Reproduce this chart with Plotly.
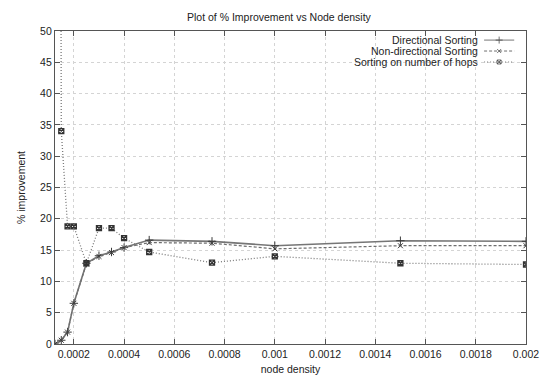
import plotly.graph_objects as go

# Node densities at which each sorting scheme was evaluated
node_density = [0.000125, 0.00015, 0.000175, 0.0002, 0.00025, 0.0003, 0.00035,
                0.0004, 0.0005, 0.00075, 0.001, 0.0015, 0.002]

# Percentage improvement for each scheme
directional = [0.0, 0.6, 1.9, 6.5, 12.9, 14.1, 14.7, 15.4, 16.6, 16.4, 15.7, 16.5, 16.4]
non_directional = [0.0, 0.6, 1.9, 6.5, 12.8, 14.0, 14.6, 15.4, 16.2, 16.1, 15.2, 15.7, 15.7]
hops = [500.0, 34.0, 18.8, 18.8, 12.9, 18.5, 18.5, 16.9, 14.7, 13.0, 14.0, 12.9, 12.7]

x_ticks = [0.0002, 0.0004, 0.0006, 0.0008, 0.001, 0.0012, 0.0014, 0.0016, 0.0018, 0.002]
x_tick_text = ["0.0002", "0.0004", "0.0006", "0.0008", "0.001", "0.0012", "0.0014",
               "0.0016", "0.0018", "0.002"]
y_ticks = [0, 5, 10, 15, 20, 25, 30, 35, 40, 45, 50]

series_names = ["Directional Sorting", "Non-directional Sorting", "Sorting on number of hops"]

FONT = "Liberation Sans, Arial, sans-serif"
TXT = "#222222"
styles = [
    dict(dash="solid", lw=1.6, lc="#767676", sym="cross-thin", ms=6, mc="#3a3a3a", mw=1.0),
    dict(dash="3px,2px", lw=1.2, lc="#6e6e6e", sym="x-thin", ms=5, mc="#3a3a3a", mw=1.0),
    dict(dash="1px,2px", lw=1.3, lc="#7a7a7a", sym="square-x-open", ms=5, mc="#333333", mw=1.3),
]

fig = go.Figure()
for name, ys, st in zip(series_names, [directional, non_directional, hops], styles):
    fig.add_trace(go.Scatter(
        x=node_density, y=ys, name=name, mode="lines+markers",
        line=dict(color=st["lc"], width=st["lw"], dash=st["dash"]),
        marker=dict(symbol=st["sym"], size=st["ms"], color=st["mc"],
                    line=dict(color=st["mc"], width=st["mw"])),
        cliponaxis=True, showlegend=False,
    ))

# Key in the upper right: labels right-aligned, line samples to their right
key_rows_y = [0.971, 0.936, 0.901]
for name, ky, st in zip(series_names, key_rows_y, styles):
    fig.add_annotation(x=0.902, y=ky, xref="paper", yref="paper", text=name,
                       showarrow=False, xanchor="right", yanchor="middle",
                       font=dict(family=FONT, size=10.5, color=TXT))
    fig.add_trace(go.Scatter(
        x=[0.911, 0.943, 0.975], y=[ky, ky, ky], xaxis="x2", yaxis="y2",
        mode="lines+markers", showlegend=False, hoverinfo="skip",
        line=dict(color=st["lc"], width=1.0, dash=st["dash"]),
        marker=dict(symbol=st["sym"], size=[0, st["ms"] - 1, 0], color=st["mc"],
                    line=dict(color=st["mc"], width=1.0)),
    ))

axis_common = dict(
    showline=True, linecolor="#555", linewidth=1.2, mirror="ticks",
    ticks="inside", ticklen=5, tickcolor="#555", tickwidth=1.2,
    showgrid=True, gridcolor="#d4d4d4", griddash="dot", gridwidth=1,
    zeroline=False, automargin=False, tickfont=dict(family=FONT, size=10.5, color=TXT),
)

fig.update_layout(
    width=543, height=378,
    margin=dict(l=55, r=17, t=31, b=34),
    paper_bgcolor="white", plot_bgcolor="white",
    xaxis=dict(range=[0.000125, 0.002], tickvals=x_ticks, ticktext=x_tick_text,
               title=dict(text="node density", font=dict(family=FONT, size=10.5, color=TXT),
                          standoff=6),
               **axis_common),
    yaxis=dict(range=[0, 50], tickvals=y_ticks,
               title=dict(text="% improvement", font=dict(family=FONT, size=10.5, color=TXT),
                          standoff=12),
               **axis_common),
    xaxis2=dict(overlaying="x", range=[0, 1], visible=False),
    yaxis2=dict(overlaying="y", range=[0, 1], visible=False),
)

fig.add_annotation(text="Plot of % Improvement vs Node density", x=0.476, y=1.0,
                   xref="paper", yref="paper", yshift=14, showarrow=False,
                   xanchor="center", yanchor="middle",
                   font=dict(family=FONT, size=10.5, color=TXT))

fig.write_html("out.html")
